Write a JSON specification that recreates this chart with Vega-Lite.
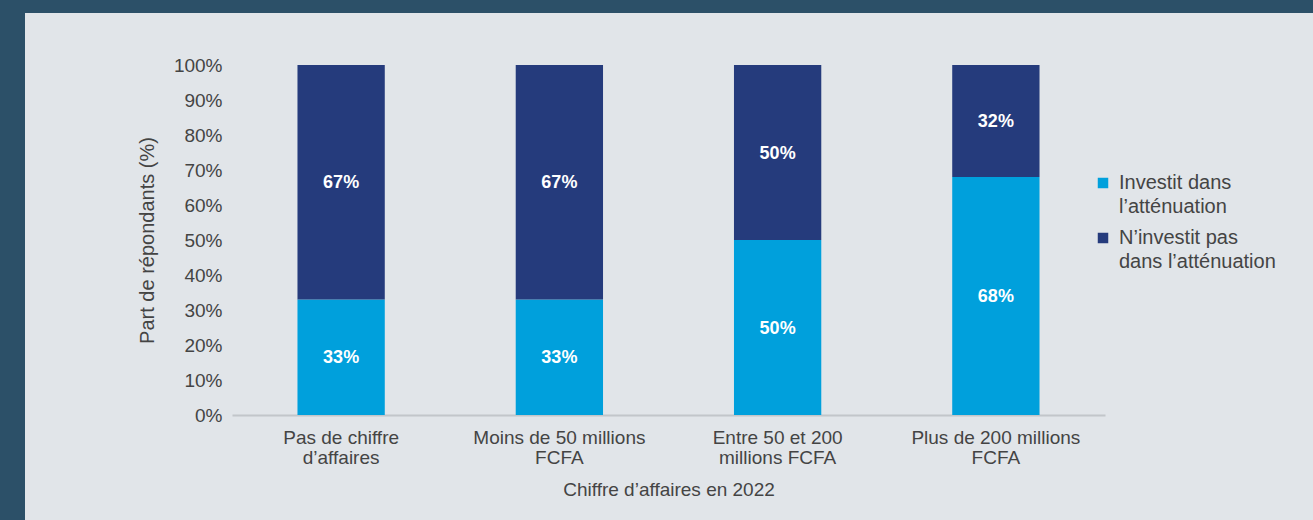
{
  "$schema": "https://vega.github.io/schema/vega-lite/v6.json",
  "width": 1288,
  "height": 507,
  "autosize": {"type": "none"},
  "padding": {"left": 25, "top": 13, "right": 0, "bottom": 0},
  "background": "#2c5068",
  "config": {
    "view": {"fill": "#e1e5e9", "stroke": null},
    "font": "Liberation Sans",
    "style": {"guide-label": {"lineHeight": 24}}
  },
  "data": {
    "values": [
      {"cat": "Pas de chiffre d’affaires", "group": "Investit dans l’atténuation", "value": 33, "order": 1},
      {"cat": "Pas de chiffre d’affaires", "group": "N’investit pas dans l’atténuation", "value": 67, "order": 2},
      {"cat": "Moins de 50 millions FCFA", "group": "Investit dans l’atténuation", "value": 33, "order": 1},
      {"cat": "Moins de 50 millions FCFA", "group": "N’investit pas dans l’atténuation", "value": 67, "order": 2},
      {"cat": "Entre 50 et 200 millions FCFA", "group": "Investit dans l’atténuation", "value": 50, "order": 1},
      {"cat": "Entre 50 et 200 millions FCFA", "group": "N’investit pas dans l’atténuation", "value": 50, "order": 2},
      {"cat": "Plus de 200 millions FCFA", "group": "Investit dans l’atténuation", "value": 68, "order": 1},
      {"cat": "Plus de 200 millions FCFA", "group": "N’investit pas dans l’atténuation", "value": 32, "order": 2}
    ]
  },
  "transform": [
    {"stack": "value", "groupby": ["cat"], "sort": [{"field": "order"}], "as": ["v0", "v1"]},
    {"calculate": "(datum.v0 + datum.v1) / 2", "as": "mid"},
    {"calculate": "datum.value + '%'", "as": "lbl"}
  ],
  "encoding": {
    "x": {
      "field": "cat",
      "type": "nominal",
      "sort": null,
      "scale": {"range": [207, 1080], "paddingInner": 0.6, "paddingOuter": 0.3},
      "axis": {
        "offset": -105,
        "title": "Chiffre d’affaires en 2022",
        "titleFont": "Liberation Sans",
        "titleFontSize": 19,
        "titleFontWeight": "normal",
        "titleColor": "#444444",
        "titlePadding": 13,
        "labelAngle": 0,
        "labelFontSize": 19,
        "labelColor": "#444444",
        "labelPadding": 13,
        "labelLineHeight": 20,
        "labelExpr": "datum.label == 'Pas de chiffre d’affaires' ? ['Pas de chiffre', 'd’affaires'] : datum.label == 'Moins de 50 millions FCFA' ? ['Moins de 50 millions', 'FCFA'] : datum.label == 'Entre 50 et 200 millions FCFA' ? ['Entre 50 et 200', 'millions FCFA'] : ['Plus de 200 millions', 'FCFA']",
        "ticks": false,
        "domainColor": "#c2c6ca",
        "domainWidth": 2
      }
    }
  },
  "layer": [
    {
      "mark": {"type": "bar"},
      "encoding": {
        "y": {
          "field": "v0",
          "type": "quantitative",
          "scale": {"domain": [0, 100], "range": [402, 52]},
          "axis": {
            "offset": -207,
            "title": "Part de répondants (%)",
            "titleFont": "Liberation Sans",
            "titleFontSize": 20,
            "titleFontWeight": "normal",
            "titleColor": "#444444",
            "titlePadding": 16,
            "values": [0, 10, 20, 30, 40, 50, 60, 70, 80, 90, 100],
            "labelExpr": "datum.value + '%'",
            "labelFontSize": 19,
            "labelColor": "#444444",
            "labelPadding": 10,
            "ticks": false,
            "domain": false,
            "grid": false
          }
        },
        "y2": {"field": "v1"},
        "color": {
          "field": "group",
          "type": "nominal",
          "scale": {
            "domain": ["Investit dans l’atténuation", "N’investit pas dans l’atténuation"],
            "range": ["#00a0dc", "#253b7c"]
          },
          "legend": {
            "orient": "none",
            "legendX": 1068,
            "legendY": 160,
            "title": null,
            "symbolType": "square",
            "symbolSize": 110,
            "symbolStrokeWidth": 0,
            "labelFontSize": 20,
            "labelColor": "#444444",
            "labelLimit": 300,
            "labelOffset": 6,
            "rowPadding": 11,
            "labelExpr": "datum.label == 'Investit dans l’atténuation' ? ['Investit dans', 'l’atténuation'] : ['N’investit pas', 'dans l’atténuation']"
          }
        }
      }
    },
    {
      "mark": {"type": "text", "color": "white", "fontWeight": "bold", "fontSize": 18, "font": "Liberation Sans", "dy": 1},
      "encoding": {
        "y": {"field": "mid", "type": "quantitative", "scale": {"domain": [0, 100], "range": [402, 52]}},
        "text": {"field": "lbl", "type": "nominal"}
      }
    }
  ]
}
